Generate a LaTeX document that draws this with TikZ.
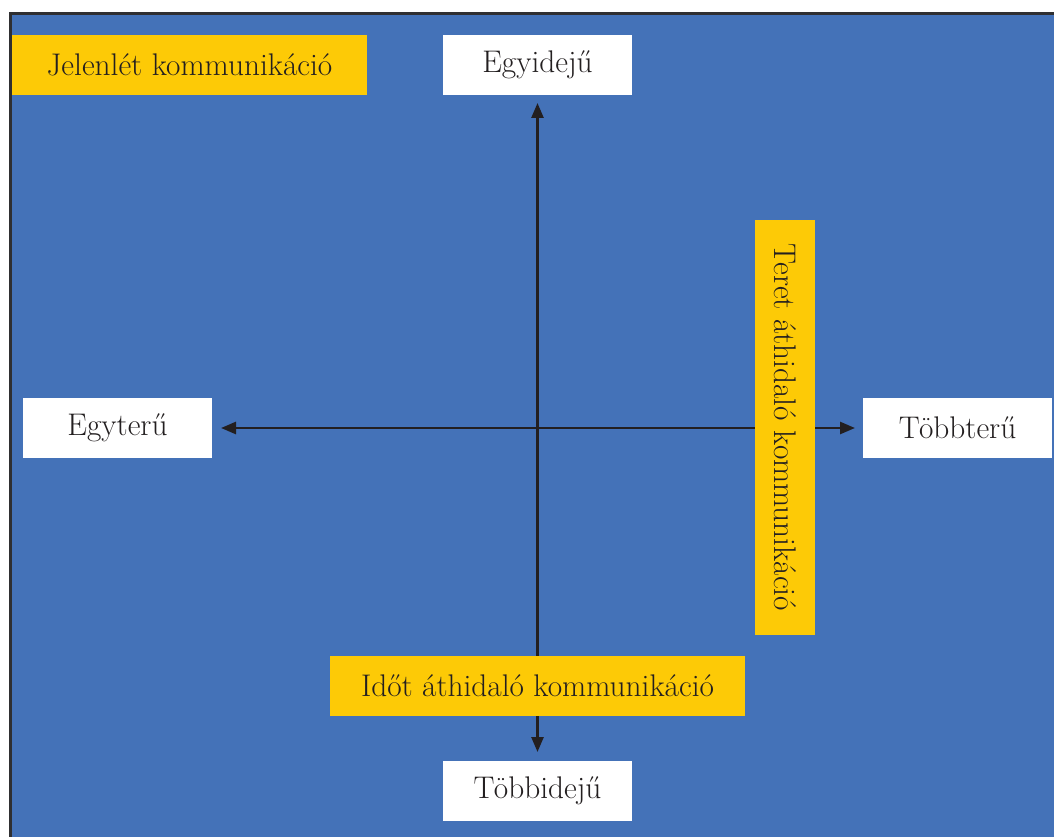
\documentclass[tikz,border=0pt]{standalone}
\usetikzlibrary{arrows.meta}
\definecolor{panelblue}{HTML}{4472B8}
\definecolor{labelyellow}{HTML}{FDCA06}
\definecolor{inkdark}{HTML}{231F20}
\definecolor{framegray}{HTML}{2F2F31}
\begin{document}
\begin{tikzpicture}[x=1pt,y=-1pt,
  every node/.style={inner sep=0pt,outer sep=0pt,text=inkdark,font=\fontsize{31.3}{34}\selectfont},
  endbox/.style={fill=white,minimum width=189pt,minimum height=60pt},
  kindbox/.style={fill=labelyellow,minimum height=60pt},
  axis/.style={draw=inkdark,line width=2.6pt,{Triangle[length=15pt,width=12pt]}-{Triangle[length=15pt,width=12pt]}}]
  \useasboundingbox (0,0) rectangle (1054,837);
  % panel and its frame
  \fill[panelblue] (11,14) rectangle (1054,837);
  \draw[framegray,line width=3pt] (10.5,837) -- (10.5,13.5) -- (1054,13.5);
  % end points of the two axes
  \node[endbox] (sim) at (537.5,65) {Egyidejű};
  \node[endbox] (multi) at (537.5,791) {Többidejű};
  \node[endbox] (onespace) at (117.5,428) {Egyterű};
  \node[endbox] (manyspace) at (957.5,428) {Többterű};
  % axes
  \draw[axis,shorten <=8pt,shorten >=9pt] (sim.south) -- (multi.north);
  \draw[axis,shorten <=9pt,shorten >=8pt] (onespace.east) -- (manyspace.west);
  % communication kinds
  \node[kindbox,minimum width=355pt] (presence) at (189.5,65) {Jelenlét kommunikáció};
  \node[kindbox,minimum width=415pt] (timebridge) at (537.5,686) {Időt áthidaló kommunikáció};
  \node[kindbox,minimum width=415pt,rotate=-90] (spacebridge) at (785,427.5) {Teret áthidaló kommunikáció};
\end{tikzpicture}
\end{document}
